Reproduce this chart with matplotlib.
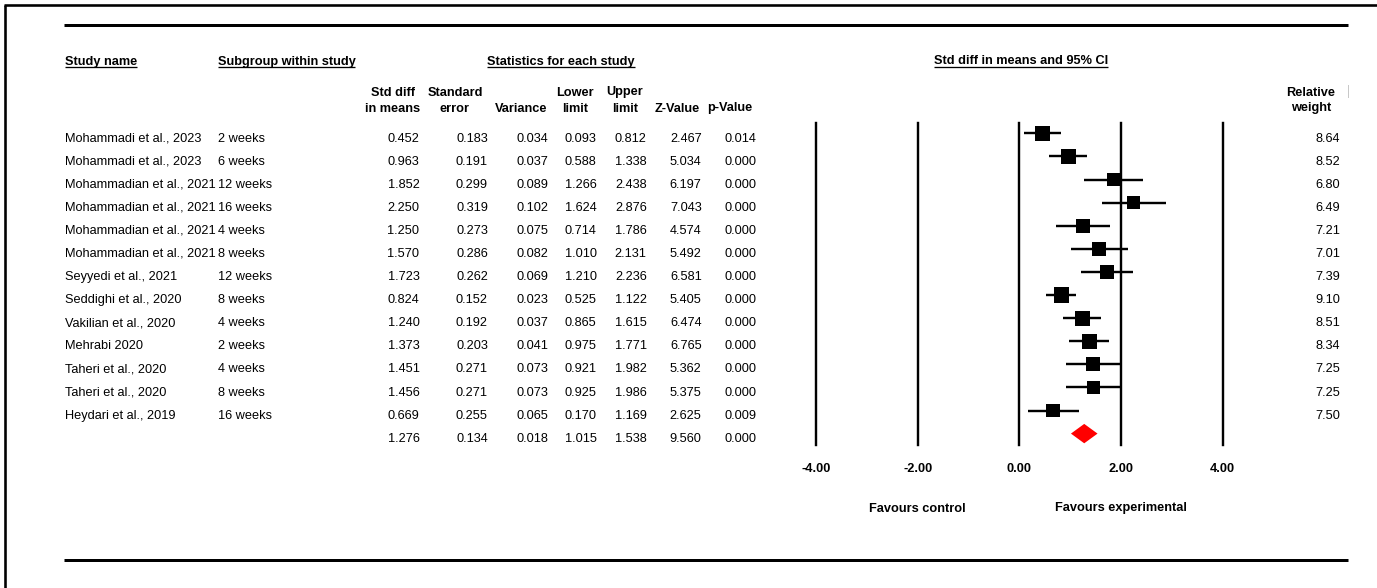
import numpy as np
import matplotlib
matplotlib.use("Agg")
import matplotlib.pyplot as plt
from matplotlib import font_manager
from matplotlib.patches import Polygon

# study-level results
study = ["Mohammadi et al., 2023", "Mohammadi et al., 2023",
         "Mohammadian et al., 2021", "Mohammadian et al., 2021",
         "Mohammadian et al., 2021", "Mohammadian et al., 2021",
         "Seyyedi et al., 2021", "Seddighi et al., 2020", "Vakilian et al., 2020",
         "Mehrabi 2020", "Taheri et al., 2020", "Taheri et al., 2020",
         "Heydari et al., 2019"]
subgroup = ["2 weeks", "6 weeks", "12 weeks", "16 weeks", "4 weeks", "8 weeks",
            "12 weeks", "8 weeks", "4 weeks", "2 weeks", "4 weeks", "8 weeks",
            "16 weeks"]
smd = [0.452, 0.963, 1.852, 2.250, 1.250, 1.570, 1.723, 0.824, 1.240, 1.373, 1.451, 1.456, 0.669]
se = [0.183, 0.191, 0.299, 0.319, 0.273, 0.286, 0.262, 0.152, 0.192, 0.203, 0.271, 0.271, 0.255]
variance = [0.034, 0.037, 0.089, 0.102, 0.075, 0.082, 0.069, 0.023, 0.037, 0.041, 0.073, 0.073, 0.065]
lower = [0.093, 0.588, 1.266, 1.624, 0.714, 1.010, 1.210, 0.525, 0.865, 0.975, 0.921, 0.925, 0.170]
upper = [0.812, 1.338, 2.438, 2.876, 1.786, 2.131, 2.236, 1.122, 1.615, 1.771, 1.982, 1.986, 1.169]
zval = [2.467, 5.034, 6.197, 7.043, 4.574, 5.492, 6.581, 5.405, 6.474, 6.765, 5.362, 5.375, 2.625]
pval = [0.014, 0.000, 0.000, 0.000, 0.000, 0.000, 0.000, 0.000, 0.000, 0.000, 0.000, 0.000, 0.009]
weight = [8.64, 8.52, 6.80, 6.49, 7.21, 7.01, 7.39, 9.10, 8.51, 8.34, 7.25, 7.25, 7.50]

# pooled row: smd, se, variance, lower, upper, z, p
pooled = [1.276, 0.134, 0.018, 1.015, 1.538, 9.560, 0.000]

ticks = [-4, -2, 0, 2, 4]
tick_labels = ["-4.00", "-2.00", "0.00", "2.00", "4.00"]

names = {f.name for f in font_manager.fontManager.ttflist}
FONT = "Liberation Sans Narrow" if "Liberation Sans Narrow" in names else "Liberation Sans"
FS = 10.8 if FONT == "Liberation Sans Narrow" else 9.2
plt.rcParams["font.family"] = FONT

W, H = 1377, 588
fig = plt.figure(figsize=(W / 100, H / 100), dpi=100)
fig.patch.set_facecolor("white")

# overlay axes in pixel units for the table part
tab = fig.add_axes([0, 0, 1, 1])
tab.set_xlim(0, W)
tab.set_ylim(H, 0)
tab.axis("off")

PX = 0.72  # points per pixel at 100 dpi

# frame and rules
tab.plot([5, 5], [5, H], color="black", lw=2.6 * PX, solid_capstyle="butt")
tab.plot([4, W], [5, 5], color="black", lw=2.6 * PX, solid_capstyle="butt")
tab.plot([64, 1348], [25, 25], color="black", lw=3 * PX, solid_capstyle="butt")
tab.plot([64, 1348], [560, 560], color="black", lw=3 * PX, solid_capstyle="butt")
tab.plot([1347.5, 1347.5], [85, 97], color="#c8c8c8", lw=1 * PX)

row0, dy = 133.3, 23.1
text_shift = 8.2  # baseline offset below the row centre


def put(x, y, s, ha="left", bold=False):
    return tab.text(x, y, s, ha=ha, va="baseline", fontsize=FS,
                    fontweight="bold" if bold else "normal", color="black")


fig.canvas.draw()
renderer = fig.canvas.get_renderer()
inv = tab.transData.inverted()


def underlined(x, y, s, ha="left"):
    t = put(x, y, s, ha=ha, bold=True)
    bb = t.get_window_extent(renderer)
    (x0, _), (x1, _) = inv.transform([[bb.x0, bb.y0], [bb.x1, bb.y1]])
    tab.plot([x0, x1], [y + 2.6, y + 2.6], color="black", lw=1.3 * PX,
             solid_capstyle="butt")


# section headers
hdr_y = 64.5
underlined(65, hdr_y, "Study name")
underlined(217.5, hdr_y, "Subgroup within study")
underlined(561, hdr_y, "Statistics for each study", ha="center")
underlined(1021, hdr_y, "Std diff in means and 95% CI", ha="center")

# column headers (two lines)
h1, h2 = 95.5, 111.5
col_heads = [(393, "Std diff", "in means"), (455, "Standard", "error"),
             (521, "", "Variance"), (575, "Lower", "limit"),
             (625, "Upper", "limit"), (677.5, "", "Z-Value"),
             (730, "", "p-Value"), (1311, "Relative", "weight")]
for cx, a, b in col_heads:
    if a:
        put(cx, h1, a, ha="center", bold=True)
    put(cx, h2, b, ha="center", bold=True)

# table body
col_right = [419.5, 488, 548.3, 596.7, 646.7, 701.7, 756.7]
n = len(study)
for i in range(n):
    yb = row0 + i * dy + text_shift
    put(65, yb, study[i])
    put(217.5, yb, subgroup[i])
    vals = [smd[i], se[i], variance[i], lower[i], upper[i], zval[i], pval[i]]
    for xr, v in zip(col_right, vals):
        put(xr, yb, f"{v:.3f}", ha="right")
    put(1340, yb, f"{weight[i]:.2f}", ha="right")

yb = row0 + n * dy + text_shift
for xr, v in zip(col_right, pooled):
    put(xr, yb, f"{v:.3f}", ha="right")

# forest plot axes: x in effect-size units, y in row units
x_left, x_right = 816, 1222.7
y_top, y_bot = 122.7, 445
fp = fig.add_axes([x_left / W, 1 - y_bot / H, (x_right - x_left) / W, (y_bot - y_top) / H])
fp.set_xlim(-4, 4)
fp.set_ylim((y_bot - row0) / dy, (y_top - row0) / dy)
fp.axis("off")
fp.patch.set_alpha(0)

for t in ticks:
    fp.axvline(t, color="black", lw=2.4 * PX, zorder=1, clip_on=False)

rows = np.arange(n)
fp.hlines(rows, lower, upper, color="black", lw=2.4 * PX, zorder=2)
side_px = 5.1 * np.sqrt(np.array(weight))
fp.scatter(smd, rows, marker="s", s=(side_px * PX) ** 2, color="black",
           linewidths=0, zorder=3)

half_h = 9.7 / dy
fp.add_patch(Polygon([(pooled[3], n), (pooled[0], n - half_h),
                      (pooled[4], n), (pooled[0], n + half_h)],
                     closed=True, facecolor="#ff0000", edgecolor="none", zorder=3))

# tick labels and direction captions, positioned through the forest x scale
def fx(v):
    return inv.transform(fp.transData.transform((v, 0)))[0]


for t, s in zip(ticks, tick_labels):
    put(fx(t), 471.5, s, ha="center", bold=True)

for t, s in [(-2, "Favours control"), (2, "Favours experimental")]:
    put(fx(t), 511.5, s, ha="center", bold=True)

fig.savefig("out.png", dpi=100, facecolor="white")
